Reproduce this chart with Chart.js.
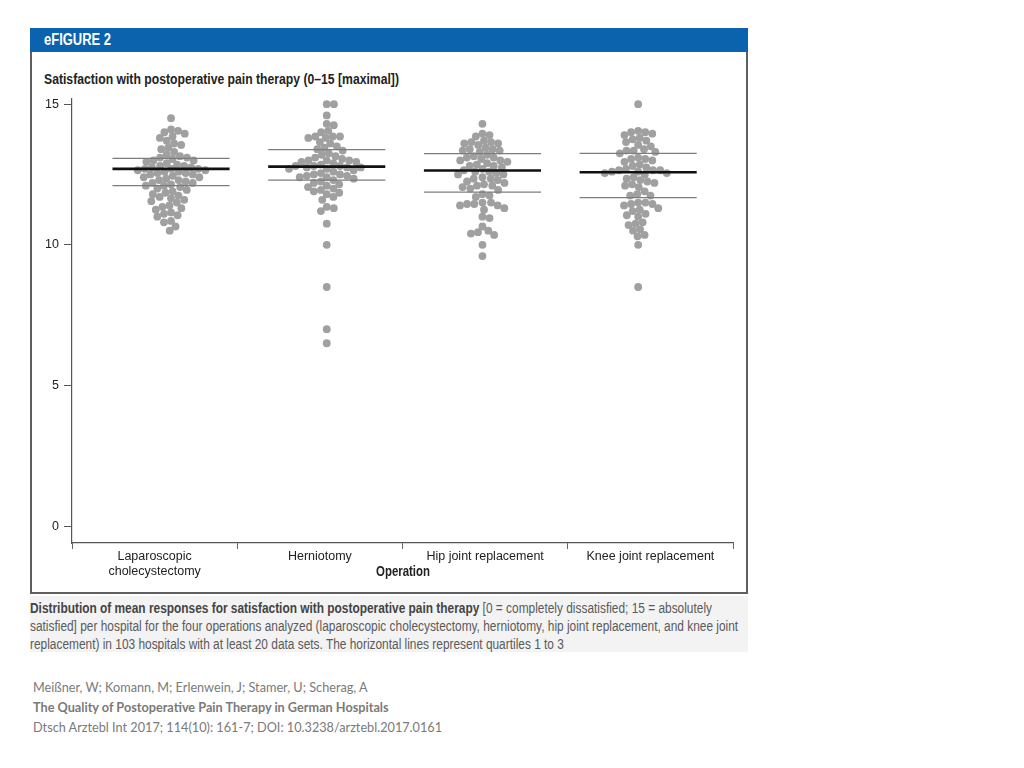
<!DOCTYPE html>
<html>
<head>
<meta charset="utf-8">
<script src="https://cdn.jsdelivr.net/npm/chart.js@4.4.1/dist/chart.umd.min.js"></script>
<style>
  body { margin: 0; width: 1024px; height: 768px; background: #fff; position: relative; overflow: hidden;
         font-family: "Liberation Sans", Arial, sans-serif; }
  #frame { position: absolute; left: 30px; top: 28px; width: 718px; height: 566px; box-sizing: border-box;
           border: 2px solid #5f5f5f; border-top: none; }
  #head { position: absolute; left: 30px; top: 28px; width: 718px; height: 24px; background: #0b63ad; }
  .fit { position: absolute; white-space: nowrap; transform-origin: 0 0; }
  #headText { left: 44px; top: 31px; color: #fff; font-weight: bold; font-size: 16px; }
  #title { left: 44px; top: 71px; font-size: 14.5px; font-weight: bold; color: #222; }
  #chart { position: absolute; left: 30px; top: 86px; }
  #xtitle { left: 376px; top: 563px; font-size: 14px; font-weight: bold; color: #222; }
  #capBg { position: absolute; left: 30px; top: 596px; width: 718px; height: 56px; background: #f3f3f3; }
  #caption { left: 30px; top: 599px; font-size: 14px; line-height: 18px; color: #5a5a5a; }
  #caption b { color: #444; }
  #cite { position: absolute; left: 33px; top: 677px; font-family: Lato, "Open Sans", sans-serif; font-size: 12.7px;
          line-height: 20px; color: #7a7a7a; white-space: nowrap; }
</style>
</head>
<body>
<div id="frame"></div>
<div id="head"></div>
<div id="headText" class="fit" data-w="67">eFIGURE 2</div>
<div id="title" class="fit" data-w="355">Satisfaction with postoperative pain therapy (0–15 [maximal])</div>
<canvas id="chart" width="718" height="504"></canvas>
<div id="xtitle" class="fit" data-w="54">Operation</div>
<div id="capBg"></div>
<div id="caption" class="fit" data-w="682"><span id="capLine1"><b>Distribution of mean responses for satisfaction with postoperative pain therapy</b> [0 = completely dissatisfied; 15 = absolutely</span><br>satisfied] per hospital for the four operations analyzed (laparoscopic cholecystectomy, herniotomy, hip joint replacement, and knee joint<br>replacement) in 103 hospitals with at least 20 data sets. The horizontal lines represent quartiles 1 to 3</div>
<div id="cite">Meißner, W; Komann, M; Erlenwein, J; Stamer, U; Scherag, A<br><b>The Quality of Postoperative Pain Therapy in German Hospitals</b><br>Dtsch Arztebl Int 2017; 114(10): 161-7; DOI: 10.3238/arztebl.2017.0161</div>
<script>
const categories = [['Laparoscopic', 'cholecystectomy'], 'Herniotomy', 'Hip joint replacement', 'Knee joint replacement'];
const yTicks = [0, 5, 10, 15];

const laparoscopic = [14.5,
  14.1, 14.05, 14.0, 13.95,
  13.85, 13.8, 13.7, 13.6, 13.55, 13.45, 13.4, 13.3,
  13.2, 13.15, 13.1, 13.1, 13.05, 13.0, 13.0, 12.95, 12.9,
  12.85, 12.8, 12.8, 12.75, 12.75, 12.7, 12.7, 12.7, 12.65, 12.65, 12.6, 12.6, 12.55, 12.55, 12.5, 12.5, 12.45,
  12.4, 12.4, 12.35, 12.3, 12.3, 12.25, 12.2, 12.2, 12.15, 12.1, 12.1, 12.05, 12.0,
  11.95, 11.9, 11.85, 11.8, 11.75, 11.7, 11.65,
  11.6, 11.55, 11.5,
  11.4, 11.35, 11.3, 11.25,
  11.15, 11.1, 11.05, 11.0,
  10.85, 10.8,
  10.65, 10.5];

const herniotomy = [15.0, 15.0, 14.6, 14.3, 14.25, 14.05, 14.0,
  13.85, 13.85, 13.8, 13.8, 13.85,
  13.65, 13.6, 13.5, 13.45, 13.4, 13.35,
  13.25, 13.2, 13.15, 13.1,
  13.05, 13.0, 13.0, 13.0, 12.95, 12.95, 12.9,
  12.85, 12.8, 12.8, 12.8, 12.75, 12.75, 12.75, 12.7, 12.7, 12.65, 12.6,
  12.55, 12.5, 12.5, 12.45, 12.45, 12.4, 12.4, 12.35, 12.3,
  12.25, 12.2, 12.15, 12.1, 12.05, 12.0, 11.95, 11.9, 11.85, 11.8, 11.7, 11.6,
  11.35, 11.3, 11.2, 10.75, 10.0, 8.5, 7.0, 6.5];

const hipJoint = [14.3,
  13.9, 13.85, 13.95,
  13.7, 13.65, 13.65, 13.6, 13.55, 13.6,
  13.45, 13.4, 13.4, 13.35, 13.35, 13.3,
  13.2, 13.15, 13.1, 13.1, 13.05, 13.0, 13.0, 12.95, 12.9, 12.85, 12.8, 12.8,
  12.75, 12.7, 12.65, 12.6, 12.6, 12.55, 12.5, 12.5,
  12.4, 12.35, 12.35, 12.3, 12.25, 12.2,
  12.15, 12.1, 12.1, 12.05, 12.0, 11.95,
  11.8, 11.75, 11.7,
  11.5, 11.5, 11.45, 11.45, 11.4, 11.4,
  11.3, 11.25, 11.0, 10.95, 10.65, 10.5, 10.45, 10.4, 10.35, 10.0, 9.6];

const kneeJoint = [15.0,
  14.05, 14.0, 14.0, 13.95, 13.9,
  13.8, 13.75, 13.7, 13.65, 13.55, 13.5,
  13.4, 13.35, 13.35, 13.3, 13.25,
  13.1, 13.05, 13.05, 13.0, 12.95,
  12.85, 12.8, 12.75,
  12.7, 12.65, 12.65, 12.65, 12.6, 12.6, 12.55, 12.55, 12.5,
  12.4, 12.35, 12.3, 12.25, 12.2, 12.15, 12.1, 12.05,
  11.9, 11.8, 11.75, 11.75,
  11.5, 11.5, 11.45, 11.45, 11.4,
  11.3, 11.25, 11.2,
  11.1, 11.05, 11.0,
  10.8, 10.75, 10.7,
  10.55, 10.5, 10.35, 10.3, 10.0, 8.5];

const groups = [laparoscopic, herniotomy, hipJoint, kneeJoint];

// quartiles 1 to 3
const quartile1 = [12.1, 12.3, 11.87, 11.68];
const medians = [12.7, 12.78, 12.64, 12.58];
const quartile3 = [13.07, 13.38, 13.24, 13.25];

const FONT = '"Liberation Sans", Arial, sans-serif';
const DOT_R = 3.9;
const DOT_GAP = 7.2;
const LINE_HALF = 0.376;

// squeeze html text to the narrow width of the original typeface
function fitText() {
  document.querySelectorAll('.fit').forEach((el) => {
    const target = Number(el.dataset.w);
    const ref = el.id === 'caption' ? document.getElementById('capLine1') : el;
    const w = ref.getBoundingClientRect().width;
    if (w > 0) {
      el.style.transform = `scaleX(${target / w})`;
    }
  });
}
fitText();

function quartileDatasets(values, color, width) {
  return values.map((q, g) => ({
    data: [{ x: g - LINE_HALF, y: q }, { x: g + LINE_HALF, y: q }],
    showLine: true,
    borderColor: color,
    borderWidth: width,
    pointRadius: 0,
    order: 0,
  }));
}

const datasets = [
  ...quartileDatasets(medians, '#111', 2.6),
  ...quartileDatasets(quartile1, '#7d7d7d', 1.2),
  ...quartileDatasets(quartile3, '#7d7d7d', 1.2),
  ...groups.map((vals, g) => ({
    data: vals.map((v) => ({ x: g, y: v })),
    backgroundColor: '#a0a0a0',
    borderWidth: 0,
    pointRadius: DOT_R,
    order: 1,
  })),
];

const chart = new Chart(document.getElementById('chart'), {
  type: 'scatter',
  data: { datasets },
  options: {
    responsive: false,
    animation: false,
    devicePixelRatio: 1,
    layout: { padding: { top: 8, right: 15, left: 0, bottom: 0 } },
    plugins: { legend: { display: false }, tooltip: { enabled: false } },
    scales: {
      x: { type: 'linear', display: false, min: -0.636, max: 3.609 },
      xc: {
        type: 'category',
        position: 'bottom',
        labels: categories,
        offset: true,
        afterFit: (scale) => { scale.height = 47; },
        grid: { offset: true, drawOnChartArea: false, tickLength: 6, color: '#666', lineWidth: 1 },
        border: { display: true, color: '#555', width: 1.2 },
        ticks: { color: '#222', padding: 0, font: { family: FONT, size: 12.5 }, maxRotation: 0, autoSkip: false },
      },
      y: {
        min: -0.6,
        max: 15.2,
        afterBuildTicks: (scale) => { scale.ticks = yTicks.map((v) => ({ value: v })); },
        afterFit: (scale) => { scale.width = 42; },
        grid: { drawOnChartArea: false, tickLength: 8, color: '#555', lineWidth: 1 },
        border: { display: true, color: '#555', width: 1.2 },
        ticks: { color: '#222', padding: 5, font: { family: FONT, size: 12.5 } },
      },
    },
  },
});

// beeswarm: push each dot sideways (in pixels) until it no longer overlaps
function swarmOffsets(values, yScale, d) {
  const order = values.map((v, i) => i).sort((a, b) => values[b] - values[a]);
  const placed = [];
  const offs = new Array(values.length).fill(0);
  for (const i of order) {
    const py = yScale.getPixelForValue(values[i]);
    const cands = [0];
    for (const p of placed) {
      const dy = py - p.y;
      if (Math.abs(dy) < d) {
        const dx = Math.sqrt(d * d - dy * dy);
        cands.push(p.x + dx, p.x - dx);
      }
    }
    cands.sort((a, b) => Math.abs(a) - Math.abs(b));
    let best = 0;
    for (const c of cands) {
      if (placed.every((p) => (p.x - c) ** 2 + (p.y - py) ** 2 >= d * d - 0.01)) {
        best = c;
        break;
      }
    }
    placed.push({ x: best, y: py });
    offs[i] = best;
  }
  return offs;
}

const xs = chart.scales.x;
const pxPerUnit = xs.getPixelForValue(1) - xs.getPixelForValue(0);
groups.forEach((vals, g) => {
  const offs = swarmOffsets(vals, chart.scales.y, DOT_GAP);
  const ds = chart.data.datasets[12 + g];
  ds.data = vals.map((v, i) => ({ x: g + offs[i] / pxPerUnit, y: v }));
});
chart.update('none');
</script>
</body>
</html>
